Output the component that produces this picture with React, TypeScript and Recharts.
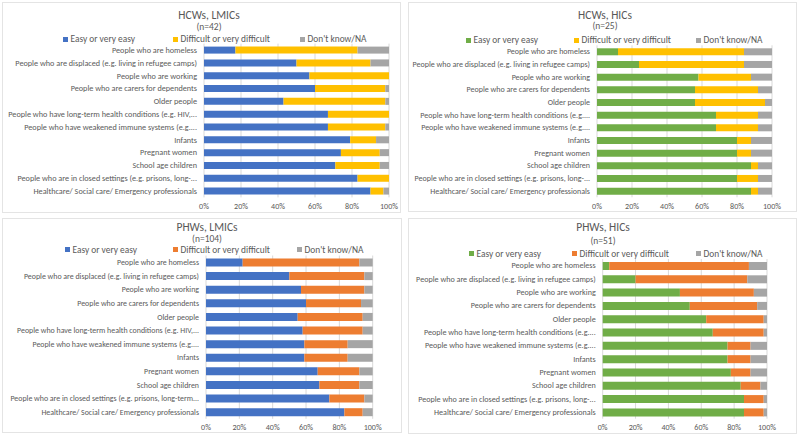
import { BarChart, Bar, XAxis, YAxis, CartesianGrid } from 'recharts'

const FONT = 'Carlito, Calibri, Lato, sans-serif'
const TEXT = '#595959'

const SERIES = ['Easy or very easy', 'Difficult or very difficult', "Don't know/NA"]
const BLUE = '#4472C4'
const GREEN = '#70AD47'
const YELLOW = '#FFC000'
const ORANGE = '#ED7D31'
const GREY = '#A5A5A5'

const TICKS = [0, 20, 40, 60, 80, 100]

const HCW_LMIC_LABELS = [
  'People who are homeless',
  'People who are displaced (e.g. living in refugee camps)',
  'People who are working',
  'People who are carers for dependents',
  'Older people',
  'People who have long-term health conditions (e.g. HIV,...',
  'People who have weakened immune systems (e.g....',
  'Infants',
  'Pregnant women',
  'School age children',
  'People who are in closed settings (e.g. prisons, long-...',
  'Healthcare/ Social care/ Emergency professionals',
]
const HCW_HIC_LABELS = [
  'People who are homeless',
  'People who are displaced (e.g. living in refugee camps)',
  'People who are working',
  'People who are carers for dependents',
  'Older people',
  'People who have long-term health conditions (e.g....',
  'People who have weakened immune systems (e.g....',
  'Infants',
  'Pregnant women',
  'School age children',
  'People who are in closed settings (e.g. prisons, long-...',
  'Healthcare/ Social care/ Emergency professionals',
]
const PHW_LMIC_LABELS = [
  'People who are homeless',
  'People who are displaced (e.g. living in refugee camps)',
  'People who are working',
  'People who are carers for dependents',
  'Older people',
  'People who have long-term health conditions (e.g. HIV,...',
  'People who have weakened immune systems (e.g....',
  'Infants',
  'Pregnant women',
  'School age children',
  'People who are in closed settings (e.g. prisons, long-term...',
  'Healthcare/ Social care/ Emergency professionals',
]
const PHW_HIC_LABELS = HCW_HIC_LABELS

// percentages, top row first
const HCW_LMIC_EASY = [17, 50, 57, 60, 43, 67, 67, 79, 74, 71, 83, 90]
const HCW_LMIC_DIFF = [66, 40, 43, 38, 55, 33, 31, 14, 21, 24, 17, 7]
const HCW_LMIC_DK = [17, 10, 0, 2, 2, 0, 2, 7, 5, 5, 0, 3]

const HCW_HIC_EASY = [12, 24, 58, 56, 56, 68, 68, 80, 80, 88, 80, 88]
const HCW_HIC_DIFF = [72, 60, 30, 36, 40, 24, 24, 8, 8, 4, 12, 4]
const HCW_HIC_DK = [16, 16, 12, 8, 4, 8, 8, 12, 12, 8, 8, 8]

const PHW_LMIC_EASY = [22, 50, 57, 60, 55, 58, 59, 59, 67, 68, 74, 83]
const PHW_LMIC_DIFF = [70, 45, 38, 33, 39, 36, 26, 26, 25, 24, 21, 11]
const PHW_LMIC_DK = [8, 5, 5, 7, 6, 6, 15, 15, 8, 8, 5, 6]

const PHW_HIC_EASY = [4, 20, 47, 53, 63, 67, 76, 76, 78, 84, 86, 86]
const PHW_HIC_DIFF = [85, 68, 45, 41, 35, 31, 14, 14, 12, 12, 12, 12]
const PHW_HIC_DK = [11, 12, 8, 6, 2, 2, 10, 10, 10, 4, 2, 2]

const makeRows = (labels: string[], easy: number[], diff: number[], dk: number[]) =>
  labels.map((label, i) => ({ label, easy: easy[i], diff: diff[i], dk: dk[i] }))

// layout in page pixels
const PANELS = [
  {
    title: 'HCWs, LMICs', n: '(n=42)', colors: [BLUE, YELLOW, GREY],
    rows: makeRows(HCW_LMIC_LABELS, HCW_LMIC_EASY, HCW_LMIC_DIFF, HCW_LMIC_DK),
    box: { x: 2, y: 2, w: 399, h: 211 },
    plot: { left: 204, right: 389, top: 43.6, bottom: 197.4 },
    titleX: 209, titleY: 15, nY: 26.5, legendY: 39, legendX: [65, 175, 302],
    labelSize: 8.2,
  },
  {
    title: 'HCWs, HICs', n: '(n=25)', colors: [GREEN, YELLOW, GREY],
    rows: makeRows(HCW_HIC_LABELS, HCW_HIC_EASY, HCW_HIC_DIFF, HCW_HIC_DK),
    box: { x: 408, y: 2, w: 389, h: 210 },
    plot: { left: 597, right: 772, top: 45.3, bottom: 197.3 },
    titleX: 605, titleY: 15, nY: 26, legendY: 40, legendX: [468, 576, 698],
    labelSize: 8.0,
  },
  {
    title: 'PHWs, LMICs', n: '(n=104)', colors: [BLUE, ORANGE, GREY],
    rows: makeRows(PHW_LMIC_LABELS, PHW_LMIC_EASY, PHW_LMIC_DIFF, PHW_LMIC_DK),
    box: { x: 2, y: 218, w: 400, h: 215 },
    plot: { left: 206, right: 372.7, top: 255.5, bottom: 418.8 },
    titleX: 207, titleY: 227, nY: 239, legendY: 249.5, legendX: [67, 175, 299],
    labelSize: 7.9,
  },
  {
    title: 'PHWs, HICs', n: '(n=51)', colors: [GREEN, ORANGE, GREY],
    rows: makeRows(PHW_HIC_LABELS, PHW_HIC_EASY, PHW_HIC_DIFF, PHW_HIC_DK),
    box: { x: 408, y: 218, w: 389, h: 216 },
    plot: { left: 602.7, right: 767, top: 259, bottom: 418.7 },
    titleX: 603, titleY: 227.5, nY: 241, legendY: 253.5, legendX: [471, 574, 698],
    labelSize: 8.1,
  },
]

const XAXIS_H = 12

// eslint-disable-next-line @typescript-eslint/no-explicit-any
function CategoryTick({ x, y, payload, size }: any) {
  return (
    <text x={x} y={y} dy="0.35em" textAnchor="end" fontSize={size} fill={TEXT} fontFamily={FONT}>
      {payload.value}
    </text>
  )
}

// eslint-disable-next-line @typescript-eslint/no-explicit-any
function Panel({ p }: { p: any }) {
  const { box, plot } = p
  const band = (plot.bottom - plot.top) / p.rows.length
  const abs = { position: 'absolute' as const }
  return (
    <>
      <div
        style={{
          ...abs, left: box.x, top: box.y, width: box.w, height: box.h,
          border: '1px solid #e4e4e4', boxSizing: 'border-box',
        }}
      />
      <div style={{ ...abs, left: p.titleX - 100, width: 200, top: p.titleY - 6.5, textAlign: 'center', fontSize: 11.5, fontWeight: 400, lineHeight: '13px', color: TEXT, fontFamily: FONT }}>
        {p.title}
      </div>
      <div style={{ ...abs, left: p.titleX - 100, width: 200, top: p.nY - 5, textAlign: 'center', fontSize: 9.5, lineHeight: '10px', color: TEXT, fontFamily: FONT }}>
        {p.n}
      </div>
      {SERIES.map((name, i) => (
        <div key={name} style={{ ...abs, left: p.legendX[i] - 2.5, top: p.legendY - 5, height: 10, lineHeight: '10px', display: 'flex', alignItems: 'center', gap: 3, fontSize: 9.4, color: TEXT, fontFamily: FONT, whiteSpace: 'nowrap' }}>
          <span style={{ width: 5, height: 5, background: p.colors[i], display: 'inline-block' }} />
          <span>{name}</span>
        </div>
      ))}
      <div style={{ ...abs, left: box.x, top: box.y }}>
        <BarChart
          width={box.w}
          height={box.h}
          layout="vertical"
          data={p.rows}
          barSize={Math.round(band * 0.58)}
          margin={{
            top: plot.top - box.y,
            bottom: box.y + box.h - plot.bottom - XAXIS_H,
            left: 0,
            right: box.x + box.w - plot.right,
          }}
        >
          <CartesianGrid horizontal={false} stroke="#d9d9d9" />
          <XAxis
            type="number"
            domain={[0, 100]}
            ticks={TICKS}
            tickFormatter={(v) => `${v}%`}
            height={XAXIS_H}
            tickSize={0}
            tickMargin={6}
            axisLine={false}
            tickLine={false}
            tick={{ fontSize: 8, fill: TEXT, fontFamily: FONT }}
            interval={0}
          />
          <YAxis
            type="category"
            dataKey="label"
            width={plot.left - box.x}
            axisLine={false}
            tickLine={false}
            tickSize={0}
            tickMargin={7}
            interval={0}
            tick={<CategoryTick size={p.labelSize} />}
          />
          <Bar dataKey="easy" name={SERIES[0]} stackId="a" fill={p.colors[0]} isAnimationActive={false} />
          <Bar dataKey="diff" name={SERIES[1]} stackId="a" fill={p.colors[1]} isAnimationActive={false} />
          <Bar dataKey="dk" name={SERIES[2]} stackId="a" fill={p.colors[2]} isAnimationActive={false} />
        </BarChart>
      </div>
    </>
  )
}

export default function App() {
  return (
    <div style={{ position: 'absolute', left: 0, top: 0, width: 800, height: 437, background: '#fff', fontFamily: FONT }}>
      {PANELS.map((p) => (
        <Panel key={p.title} p={p} />
      ))}
    </div>
  )
}
